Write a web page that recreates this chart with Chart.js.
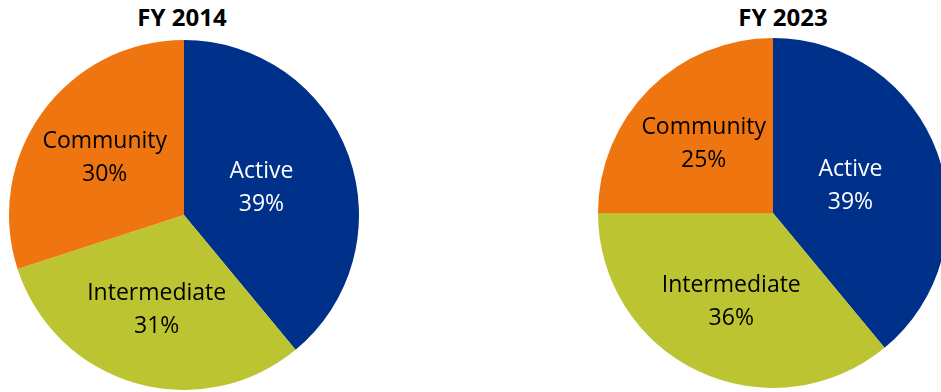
<!DOCTYPE html>
<html>
<head>
<meta charset="utf-8">
<script src="https://cdn.jsdelivr.net/npm/chart.js@4.4.0/dist/chart.umd.min.js"></script>
<style>
  html, body { margin: 0; padding: 0; background: #fff; overflow: hidden; }
  body { width: 941px; height: 392px; position: relative; font-family: "Open Sans", sans-serif; }
  .title { position: absolute; top: 0px; width: 200px; text-align: center; font-weight: bold; font-size: 24px; color: #000; }
  .pie { position: absolute; width: 350px; height: 350px; }
</style>
</head>
<body>
<div class="title" style="left:82px">FY 2014</div>
<div class="title" style="left:683px">FY 2023</div>
<div class="pie" style="left:9px; top:40px"><canvas id="pie2014"></canvas></div>
<div class="pie" style="left:598px; top:38px"><canvas id="pie2023"></canvas></div>
<script>
// Data
const categories = ['Active', 'Intermediate', 'Community'];
const share2014 = [39, 31, 30];
const share2023 = [39, 36, 25];

const sliceColors = ['#00318A', '#BCC431', '#EF7511'];
const labelColors = ['#FFFFFF', '#000000', '#000000'];

// Draws "name / value%" inside each slice
const sliceLabels = {
  id: 'sliceLabels',
  afterDatasetsDraw(chart) {
    const ctx = chart.ctx;
    const meta = chart.getDatasetMeta(0);
    const values = chart.data.datasets[0].data;
    ctx.save();
    ctx.font = '23px "Open Sans", sans-serif';
    ctx.textAlign = 'center';
    ctx.textBaseline = 'middle';
    meta.data.forEach((arc, i) => {
      const p = arc.getProps(['x', 'y', 'startAngle', 'endAngle', 'outerRadius'], true);
      const mid = (p.startAngle + p.endAngle) / 2;
      // the big blue slice sits a bit nearer the centre, like the original
      const r = p.outerRadius * (i === 0 ? 0.47 : 0.56);
      const cx = p.x + Math.cos(mid) * r;
      const cy = p.y + Math.sin(mid) * r;
      ctx.fillStyle = labelColors[i];
      ctx.fillText(chart.data.labels[i], cx, cy - 16);
      ctx.fillText(values[i] + '%', cx, cy + 17);
    });
    ctx.restore();
  }
};

function makePie(id, values) {
  return new Chart(document.getElementById(id), {
    type: 'pie',
    data: {
      labels: categories,
      datasets: [{
        data: values,
        backgroundColor: sliceColors,
        borderWidth: 0,
        hoverOffset: 0
      }]
    },
    options: {
      responsive: true,
      maintainAspectRatio: false,
      animation: false,
      layout: { padding: 0 },
      plugins: {
        legend: { display: false },
        tooltip: { enabled: false }
      }
    },
    plugins: [sliceLabels]
  });
}

makePie('pie2014', share2014);
makePie('pie2023', share2023);
</script>
</body>
</html>
